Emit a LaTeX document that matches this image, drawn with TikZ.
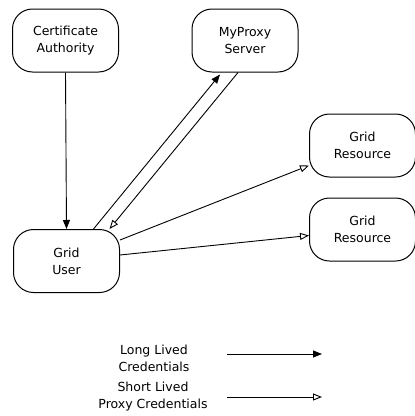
\documentclass[tikz,border=0pt]{standalone}
\usepackage{fontspec}
\setmainfont{DejaVu Sans}
\usetikzlibrary{arrows.meta}

\begin{document}
\begin{tikzpicture}[x=1pt,y=-1pt,
  every node/.style={font=\fontsize{12.5}{17}\selectfont, align=center},
  entity/.style={draw=black, line width=1pt, rounded corners=20pt,
    minimum width=106pt, minimum height=63pt, inner sep=0pt},
  longcred/.style={line width=0.9pt, -{Triangle[length=9pt,width=7pt]}},
  shortcred/.style={line width=0.9pt, -{Triangle[open,length=9pt,width=7pt]}}]
  \useasboundingbox (0,0) rectangle (415,416);
  % entities
  \node [entity] (ca) at (65.5,40.5) {Certificate\\Authority};
  \node [entity] (mp) at (245,40.5) {MyProxy\\Server};
  \node [entity] (gra) at (362.5,145.5) {Grid\\Resource};
  \node [entity] (grb) at (362.5,229.5) {Grid\\Resource};
  \node [entity] (gu) at (66.5,261) {Grid\\User};
  % credentials
  \draw [longcred] (ca.south) -- (gu.north);
  \draw [longcred] ([xshift=27pt]gu.north) -- ([xshift=-25pt,yshift=-2pt]mp.south);
  \draw [shortcred] ([xshift=-7pt]mp.south) -- ([xshift=43pt]gu.north);
  \draw [shortcred] ([yshift=21pt]gu.east) -- ([yshift=-20pt]gra.west);
  \draw [shortcred] ([yshift=6pt]gu.east) -- ([yshift=-6pt]grb.west);
  % legend
  \node (longtxt) at (154,358) {Long Lived\\Credentials};
  \node (shorttxt) at (153,397) {Short Lived\\Proxy Credentials};
  \coordinate (longa) at (227,354);
  \coordinate (longb) at (322,354);
  \coordinate (shorta) at (227,397);
  \coordinate (shortb) at (322,397);
  \draw [longcred] (longa) -- (longb);
  \draw [shortcred] (shorta) -- (shortb);
\end{tikzpicture}
\end{document}
